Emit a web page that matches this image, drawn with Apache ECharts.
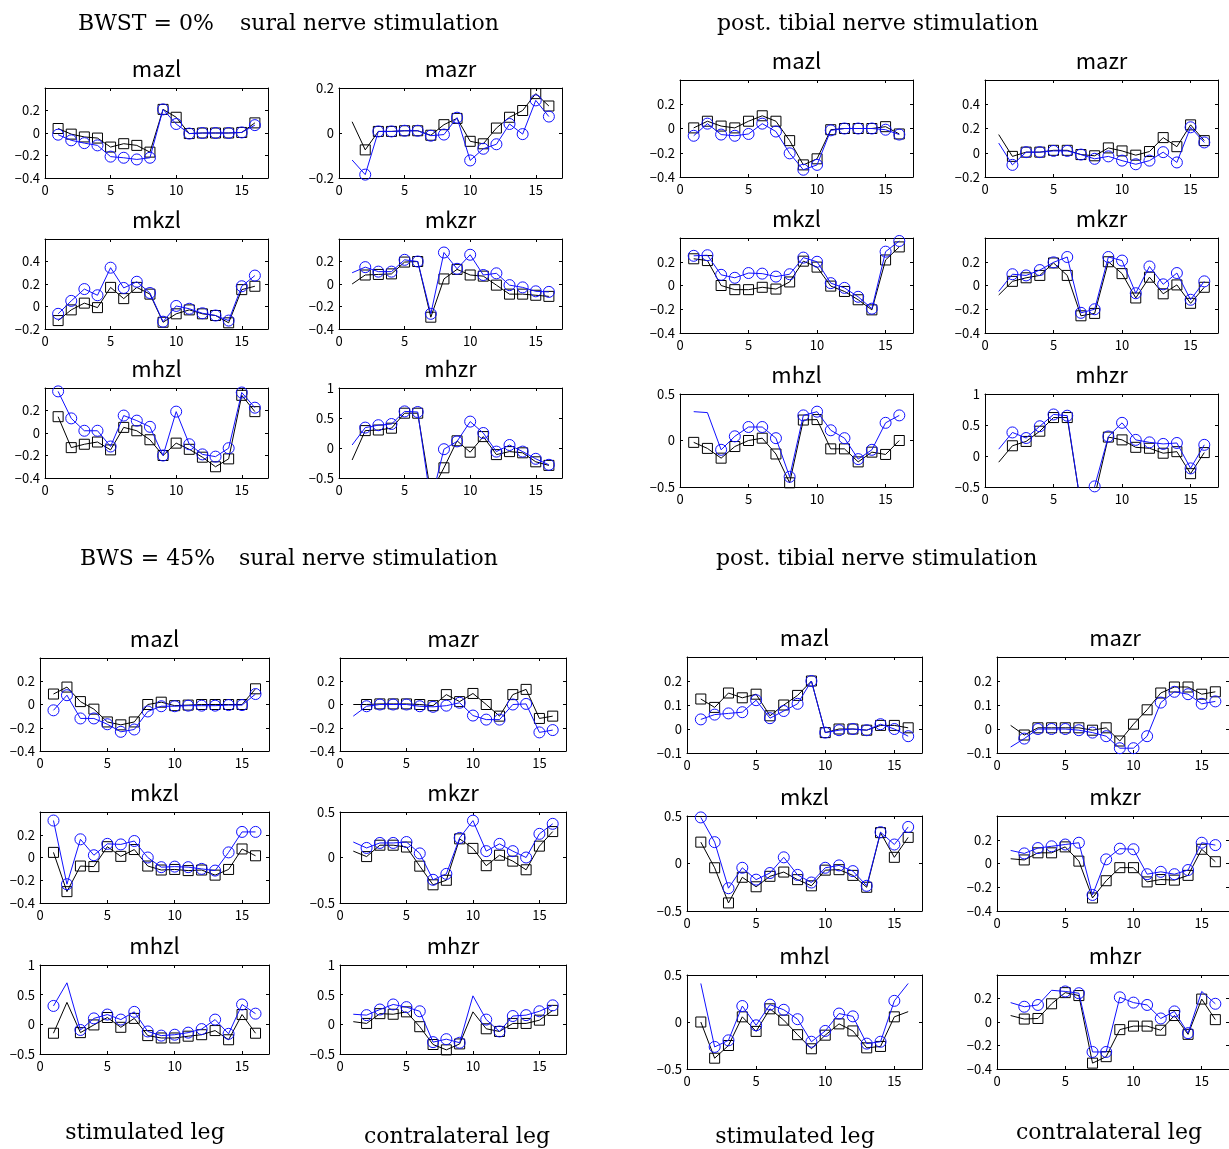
<!DOCTYPE html>
<html><head><meta charset="utf-8">
<script src="https://cdn.jsdelivr.net/npm/echarts@6/dist/echarts.min.js"></script>
<style>html,body{margin:0;padding:0;background:#fff}#c{width:1229px;height:1149px}</style>
</head><body><div id="c"></div><script>
// ---------- data ----------
const xSteps = [1,2,3,4,5,6,7,8,9,10,11,12,13,14,15,16];
const muscleNames = ['mazl','mazr','mkzl','mkzr','mhzl','mhzr'];

// BWST = 0%, sural nerve stimulation (sq = black squares, ci = blue circles)
const q1_mazl_sq = [0.04,-0.01,-0.035,-0.045,-0.125,-0.095,-0.11,-0.17,0.21,0.14,-0.005,0,0,0,0.005,0.09];
const q1_mazl_ci = [-0.015,-0.065,-0.09,-0.11,-0.21,-0.22,-0.235,-0.22,0.21,0.08,-0.005,0,0,0,0.005,0.07];
const q1_mazr_sq = [0.05,-0.075,0.007,0.007,0.01,0.01,-0.01,0.037,0.065,-0.037,-0.048,0.022,0.07,0.1,0.175,0.12];
const q1_mazr_ci = [-0.12,-0.185,0.007,0.007,0.01,0.01,-0.012,-0.007,0.068,-0.122,-0.07,-0.05,0.04,-0.005,0.145,0.073];
const q1_mkzl_sq = [-0.125,-0.03,0.03,-0.01,0.17,0.07,0.17,0.11,-0.14,-0.065,-0.03,-0.065,-0.08,-0.145,0.15,0.18];
const q1_mkzl_ci = [-0.065,0.05,0.155,0.1,0.345,0.165,0.22,0.12,-0.135,0.005,-0.02,-0.06,-0.08,-0.125,0.18,0.275];
const q1_mkzr_sq = [0.0,0.08,0.085,0.09,0.195,0.2,-0.295,0.045,0.13,0.08,0.07,-0.01,-0.09,-0.09,-0.1,-0.11];
const q1_mkzr_ci = [0.1,0.15,0.11,0.11,0.215,0.2,-0.265,0.28,0.135,0.26,0.08,0.095,-0.01,-0.03,-0.065,-0.07];
const q1_mhzl_sq = [0.145,-0.13,-0.1,-0.08,-0.15,0.05,0.02,-0.06,-0.2,-0.09,-0.145,-0.215,-0.3,-0.23,0.335,0.19];
const q1_mhzl_ci = [0.37,0.13,0.02,0.02,-0.12,0.155,0.11,0.055,-0.2,0.19,-0.1,-0.19,-0.21,-0.135,0.36,0.225];
const q1_mhzr_sq = [-0.2,0.29,0.3,0.33,0.58,0.58,-0.75,-0.33,0.12,-0.07,0.19,-0.11,-0.06,-0.08,-0.23,-0.29];
const q1_mhzr_ci = [0.05,0.34,0.38,0.4,0.61,0.6,-0.9,-0.02,0.11,0.44,0.25,-0.06,0.05,-0.06,-0.18,-0.28];

// BWST = 0%, post. tibial nerve stimulation
const q2_mazl_sq = [0.005,0.06,0.02,0.005,0.06,0.105,0.06,-0.1,-0.3,-0.25,-0.01,0,0,0,0.015,-0.045];
const q2_mazl_ci = [-0.06,0.04,-0.05,-0.06,-0.045,0.04,-0.025,-0.205,-0.34,-0.3,-0.015,0,0,0,-0.01,-0.05];
const q2_mazr_sq = [0.15,-0.03,0.005,0.005,0.02,0.02,-0.015,-0.025,0.04,0.015,-0.02,0.01,0.125,0.05,0.23,0.1];
const q2_mazr_ci = [0.08,-0.1,0.005,0.005,0.015,0.015,-0.015,-0.05,-0.03,-0.065,-0.095,-0.065,0.005,-0.08,0.21,0.085];
const q2_mkzl_sq = [0.225,0.21,0,-0.035,-0.035,-0.015,-0.03,0.03,0.205,0.155,-0.005,-0.05,-0.12,-0.205,0.215,0.325];
const q2_mkzl_ci = [0.25,0.255,0.09,0.065,0.105,0.1,0.075,0.095,0.235,0.2,0.02,-0.02,-0.095,-0.195,0.285,0.375];
const q2_mkzr_sq = [-0.08,0.035,0.065,0.085,0.19,0.085,-0.255,-0.235,0.2,0.1,-0.105,0.07,-0.07,0.005,-0.15,-0.015];
const q2_mkzr_ci = [-0.05,0.095,0.085,0.13,0.195,0.24,-0.23,-0.2,0.24,0.21,-0.065,0.16,0.01,0.105,-0.12,0.035];
const q2_mhzl_sq = [-0.02,-0.085,-0.19,-0.065,0,0.025,-0.145,-0.455,0.22,0.225,-0.09,-0.09,-0.23,-0.125,-0.15,0];
const q2_mhzl_ci = [0.31,0.3,-0.1,0.045,0.145,0.145,0.025,-0.39,0.27,0.31,0.11,0.025,-0.2,-0.1,0.19,0.27];
const q2_mhzr_sq = [-0.1,0.165,0.235,0.4,0.62,0.62,-0.8,-0.65,0.305,0.26,0.14,0.125,0.045,0.07,-0.285,0.055];
const q2_mhzr_ci = [0.11,0.38,0.29,0.48,0.67,0.65,-0.8,-0.49,0.315,0.535,0.26,0.22,0.195,0.21,-0.2,0.18];

// BWS = 45%, sural nerve stimulation
const q3_mazl_sq = [0.09,0.15,0.025,-0.04,-0.15,-0.175,-0.15,0,0.02,-0.01,-0.005,0,0,0,0,0.135];
const q3_mazl_ci = [-0.05,0.08,-0.12,-0.12,-0.17,-0.235,-0.215,-0.06,-0.015,-0.015,-0.01,-0.01,-0.01,-0.005,-0.005,0.09];
const q3_mazr_sq = [0,0,0.005,0.005,0.005,0,-0.01,0.085,0.025,0.095,0,-0.1,0.085,0.13,-0.12,-0.1];
const q3_mazr_ci = [-0.1,-0.015,0,0,0,-0.015,-0.02,-0.01,0.015,-0.095,-0.13,-0.13,0,0.005,-0.24,-0.22];
const q3_mkzl_sq = [0.045,-0.3,-0.075,-0.08,0.095,0.01,0.07,-0.075,-0.11,-0.105,-0.115,-0.11,-0.155,-0.105,0.075,0.015];
const q3_mkzl_ci = [0.325,-0.235,0.16,0.02,0.12,0.115,0.145,0,-0.085,-0.08,-0.085,-0.1,-0.115,0.045,0.225,0.225];
const q3_mkzr_sq = [0.07,0.01,0.135,0.135,0.115,-0.095,-0.3,-0.25,0.205,0.1,-0.09,0.025,-0.04,-0.135,0.125,0.285];
const q3_mkzr_ci = [0.17,0.105,0.16,0.16,0.17,0.045,-0.245,-0.18,0.215,0.405,0.07,0.15,0.07,0,0.26,0.37];
const q3_mhzl_sq = [-0.15,0.37,-0.14,-0.01,0.115,-0.05,0.1,-0.19,-0.23,-0.23,-0.2,-0.175,-0.105,-0.26,0.165,-0.15];
const q3_mhzl_ci = [0.31,0.7,-0.095,0.1,0.165,0.08,0.21,-0.12,-0.19,-0.175,-0.14,-0.08,0.08,-0.16,0.335,0.18];
const q3_mhzr_sq = [0.045,0.015,0.18,0.17,0.21,-0.04,-0.34,-0.43,-0.33,0.21,-0.075,-0.12,0.015,0.015,0.07,0.235];
const q3_mhzr_ci = [0.17,0.155,0.25,0.335,0.29,0.22,-0.3,-0.25,-0.31,0.48,0.08,-0.12,0.14,0.155,0.22,0.32];

// BWS = 45%, post. tibial nerve stimulation
const q4_mazl_sq = [0.125,0.09,0.15,0.13,0.145,0.055,0.1,0.14,0.2,-0.015,0,0,-0.005,0.015,0.015,0.005];
const q4_mazl_ci = [0.04,0.06,0.065,0.07,0.12,0.045,0.075,0.105,0.2,-0.015,-0.005,0,-0.005,0.02,0,-0.03];
const q4_mazr_sq = [0.015,-0.025,0.005,0.005,0.005,0.005,-0.005,0.005,-0.05,0.02,0.08,0.15,0.175,0.175,0.145,0.155];
const q4_mazr_ci = [-0.075,-0.04,0,0,0,-0.005,-0.015,-0.03,-0.08,-0.08,-0.03,0.11,0.155,0.145,0.105,0.115];
const q4_mkzl_sq = [0.225,-0.045,-0.415,-0.145,-0.245,-0.135,-0.09,-0.17,-0.235,-0.07,-0.065,-0.125,-0.25,0.325,0.065,0.275];
const q4_mkzl_ci = [0.485,0.225,-0.26,-0.045,-0.17,-0.1,0.065,-0.12,-0.2,-0.045,-0.02,-0.08,-0.235,0.33,0.2,0.385];
const q4_mkzr_sq = [0.04,0.03,0.09,0.09,0.14,0.02,-0.29,-0.145,-0.035,-0.035,-0.155,-0.135,-0.14,-0.1,0.12,0.015];
const q4_mkzr_ci = [0.11,0.085,0.13,0.145,0.16,0.175,-0.265,0.035,0.125,0.12,-0.09,-0.07,-0.09,-0.055,0.175,0.155];
const q4_mhzl_sq = [0,-0.385,-0.25,0.055,-0.1,0.14,0.02,-0.135,-0.285,-0.14,-0.02,-0.095,-0.275,-0.26,0.055,0.11];
const q4_mhzl_ci = [0.41,-0.265,-0.195,0.17,-0.035,0.185,0.13,0.03,-0.21,-0.095,0.09,0.06,-0.23,-0.21,0.225,0.41];
const q4_mhzr_sq = [0.055,0.025,0.03,0.155,0.25,0.225,-0.35,-0.295,-0.065,-0.035,-0.035,-0.07,0.055,-0.105,0.195,0.02];
const q4_mhzr_ci = [0.165,0.13,0.145,0.27,0.26,0.245,-0.255,-0.255,0.21,0.165,0.145,0.03,0.09,-0.095,0.26,0.155];

// points drawn without a marker (step numbers)
const q1_noMarkSq = [[],[1],[],[1],[],[1]];
const q1_noMarkCi = [[],[1],[],[1],[],[1]];
const q2_noMarkSq = [[],[1],[],[1],[],[1]];
const q2_noMarkCi = [[],[1],[],[1],[1,2],[1]];
const q3_noMarkSq = [[],[1],[],[1],[2],[1,10]];
const q3_noMarkCi = [[],[1],[],[1],[2],[1,10]];
const q4_noMarkSq = [[],[1],[],[1],[16],[1]];
const q4_noMarkCi = [[],[1],[],[1],[1,16],[1,4,15]];

// y-axis ranges per panel: [min, max, interval, show top label]
const q1_yAxes = [[-0.4,0.4,0.2,false],[-0.2,0.2,0.2,true],[-0.2,0.6,0.2,false],[-0.4,0.4,0.2,false],[-0.4,0.4,0.2,false],[-0.5,1,0.5,true]];
const q2_yAxes = [[-0.4,0.4,0.2,false],[-0.2,0.6,0.2,false],[-0.4,0.4,0.2,false],[-0.4,0.4,0.2,false],[-0.5,0.5,0.5,true],[-0.5,1,0.5,true]];
const q3_yAxes = [[-0.4,0.4,0.2,false],[-0.4,0.4,0.2,false],[-0.4,0.4,0.2,false],[-0.5,0.5,0.5,true],[-0.5,1,0.5,true],[-0.5,1,0.5,true]];
const q4_yAxes = [[-0.1,0.3,0.1,false],[-0.1,0.3,0.1,false],[-0.5,0.5,0.5,true],[-0.4,0.4,0.2,false],[-0.5,0.5,0.5,true],[-0.4,0.4,0.2,false]];

// ---------- layout ----------
const quads = [
  {sq:[q1_mazl_sq,q1_mazr_sq,q1_mkzl_sq,q1_mkzr_sq,q1_mhzl_sq,q1_mhzr_sq],
   ci:[q1_mazl_ci,q1_mazr_ci,q1_mkzl_ci,q1_mkzr_ci,q1_mhzl_ci,q1_mhzr_ci],
   nSq:q1_noMarkSq, nCi:q1_noMarkCi, y:q1_yAxes,
   cols:[[45,223],[339,223]], rows:[[88,90],[239,90],[388,90]]},
  {sq:[q2_mazl_sq,q2_mazr_sq,q2_mkzl_sq,q2_mkzr_sq,q2_mhzl_sq,q2_mhzr_sq],
   ci:[q2_mazl_ci,q2_mazr_ci,q2_mkzl_ci,q2_mkzr_ci,q2_mhzl_ci,q2_mhzr_ci],
   nSq:q2_noMarkSq, nCi:q2_noMarkCi, y:q2_yAxes,
   cols:[[680,233],[985,233]], rows:[[80,97],[238,95],[394,93]]},
  {sq:[q3_mazl_sq,q3_mazr_sq,q3_mkzl_sq,q3_mkzr_sq,q3_mhzl_sq,q3_mhzr_sq],
   ci:[q3_mazl_ci,q3_mazr_ci,q3_mkzl_ci,q3_mkzr_ci,q3_mhzl_ci,q3_mhzr_ci],
   nSq:q3_noMarkSq, nCi:q3_noMarkCi, y:q3_yAxes,
   cols:[[40,229],[340,226]], rows:[[658,93],[812,91],[965,89]]},
  {sq:[q4_mazl_sq,q4_mazr_sq,q4_mkzl_sq,q4_mkzr_sq,q4_mhzl_sq,q4_mhzr_sq],
   ci:[q4_mazl_ci,q4_mazr_ci,q4_mkzl_ci,q4_mkzr_ci,q4_mhzl_ci,q4_mhzr_ci],
   nSq:q4_noMarkSq, nCi:q4_noMarkCi, y:q4_yAxes,
   cols:[[687,235],[997,236]], rows:[[657,96],[816,95],[975,94]]}
];

const TICK_FONT = '"Noto Sans CJK JP", "Noto Sans", sans-serif';
const SERIF = '"DejaVu Serif", serif';
function fmt(v){
  if (Math.abs(v) < 1e-9) return '0';
  const s = String(parseFloat(Math.abs(v).toFixed(3)));
  return (v < 0 ? '\u2212' : '') + s;
}
function build(vals, noMark){
  return vals.map((v,i) => noMark.indexOf(xSteps[i]) >= 0 ? {value:[xSteps[i], v], symbol:'none'} : [xSteps[i], v]);
}

const grids=[], xAxes=[], yAxes=[], series=[], graphics=[];
const axisLineS = {show:true, onZero:false, lineStyle:{color:'#000', width:1}};
const tickS = {show:true, inside:true, length:3, lineStyle:{color:'#000', width:1}};
const lbl = {color:'#000', fontSize:13, fontFamily:TICK_FONT};

quads.forEach(q => {
  for (let p = 0; p < 6; p++){
    const r = Math.floor(p/2), c = p % 2;
    const L = q.cols[c][0], W = q.cols[c][1], T = q.rows[r][0], H = q.rows[r][1];
    const gi = grids.length;
    grids.push({left:L, top:T, width:W, height:H});
    const ya = q.y[p];
    xAxes.push({gridIndex:gi, type:'value', min:0, max:17, interval:5, position:'bottom',
      axisLine:axisLineS, axisTick:tickS, splitLine:{show:false},
      axisLabel:Object.assign({show:true, showMaxLabel:false, showMinLabel:true, margin:6, formatter:fmt}, lbl)});
    xAxes.push({gridIndex:gi, type:'value', min:0, max:17, interval:5, position:'top',
      axisLine:axisLineS, axisTick:tickS, splitLine:{show:false}, axisLabel:{show:false}});
    yAxes.push({gridIndex:gi, type:'value', min:ya[0], max:ya[1], interval:ya[2], position:'left',
      axisLine:axisLineS, axisTick:tickS, splitLine:{show:false},
      axisLabel:Object.assign({show:true, showMaxLabel:ya[3], showMinLabel:true, margin:5, formatter:fmt}, lbl)});
    yAxes.push({gridIndex:gi, type:'value', min:ya[0], max:ya[1], interval:ya[2], position:'right',
      axisLine:axisLineS, axisTick:tickS, splitLine:{show:false}, axisLabel:{show:false}});
    series.push({type:'line', xAxisIndex:2*gi, yAxisIndex:2*gi, data:build(q.sq[p], q.nSq[p]),
      symbol:'rect', symbolSize:10, showAllSymbol:true, clip:true, silent:true,
      itemStyle:{color:'rgba(255,255,255,0)', borderColor:'#000', borderWidth:1},
      lineStyle:{color:'#000', width:1}, emphasis:{disabled:true}, z:2});
    series.push({type:'line', xAxisIndex:2*gi, yAxisIndex:2*gi, data:build(q.ci[p], q.nCi[p]),
      symbol:'circle', symbolSize:11, showAllSymbol:true, clip:true, silent:true,
      itemStyle:{color:'rgba(255,255,255,0)', borderColor:'#1010ff', borderWidth:1},
      lineStyle:{color:'#1010ff', width:1}, emphasis:{disabled:true}, z:3});
    graphics.push({type:'text', x:L + W/2, y:T - 19, silent:true,
      style:{text:muscleNames[p], font:'22px ' + TICK_FONT, fill:'#000', align:'center', verticalAlign:'middle'}});
  }
});

const headers = [
  ['BWST = 0%', 78, 24, 'left'], ['sural nerve stimulation', 240, 24, 'left'],
  ['post. tibial nerve stimulation', 717, 24, 'left'],
  ['BWS = 45%', 80, 559, 'left'], ['sural nerve stimulation', 239, 559, 'left'],
  ['post. tibial nerve stimulation', 716, 559, 'left'],
  ['stimulated leg', 145, 1133, 'center'], ['contralateral leg', 457, 1137, 'center'],
  ['stimulated leg', 795, 1137, 'center'], ['contralateral leg', 1109, 1133, 'center']
];
headers.forEach(h => graphics.push({type:'text', x:h[1], y:h[2], silent:true,
  style:{text:h[0], font:'22px ' + SERIF, fill:'#000', align:h[3], verticalAlign:'middle'}}));

const chart = echarts.init(document.getElementById('c'), null, {renderer:'canvas'});
chart.setOption({
  animation:false, backgroundColor:'#fff',
  grid:grids, xAxis:xAxes, yAxis:yAxes, series:series, graphic:graphics
});
</script></body></html>
